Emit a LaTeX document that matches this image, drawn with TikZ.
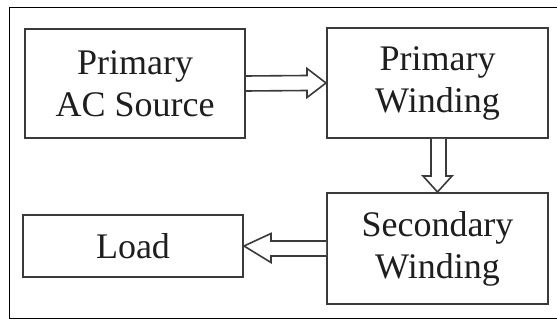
\documentclass[tikz,border=0pt]{standalone}
\usepackage{fontspec}
\setmainfont{Liberation Serif}
\usetikzlibrary{calc}
\definecolor{edgegray}{HTML}{3A3A3A}
\definecolor{inkgray}{HTML}{1E1E1E}
\begin{document}
\begin{tikzpicture}[x=1pt,y=-1pt,
  blk/.style={draw=edgegray, line width=2pt, fill=white, inner sep=0pt,
    align=center, text=inkgray, font=\fontsize{36}{42}\selectfont},
  blockarrow/.style={draw=edgegray, line width=1.6pt, fill=white, line join=miter}]
\useasboundingbox (0,0) rectangle (557,320);
% outer frame, running off the right edge
\draw[black, line width=1.4pt] (560,7.5) -- (9.5,7.5) -- (9.5,318.5) -- (560,318.5);

\node[blk, minimum width=220pt, minimum height=109pt] (src) at (135,83.5) {Primary\\AC Source};
\node[blk, minimum width=221pt, minimum height=110pt] (pri) at (437.5,83) {Primary\\Winding};
\node[blk, minimum width=221pt, minimum height=111pt] (sec) at (437.5,248.5) {Secondary\\Winding};
\node[blk, minimum width=220pt, minimum height=62pt] (load) at (133,246) {Load};

% hollow block arrows between the boxes
\draw[blockarrow]
  ($(src.east)+(0,-7.5)$) -- ($(pri.west)+(-19,-7.5)$) -- ($(pri.west)+(-19,-14.5)$)
  -- (pri.west) -- ($(pri.west)+(-19,14.5)$)
  -- ($(pri.west)+(-19,7.5)$) -- ($(src.east)+(0,7.5)$);
\draw[blockarrow]
  ($(pri.south)+(-6.5,0)$) -- ($(sec.north)+(-6.5,-16)$) -- ($(sec.north)+(-14.5,-16)$)
  -- (sec.north) -- ($(sec.north)+(14.5,-16)$)
  -- ($(sec.north)+(8.5,-16)$) -- ($(pri.south)+(8.5,0)$);
\draw[blockarrow]
  ($(sec.west)+(0,-7.5)$) -- ($(load.east)+(27,-5)$) -- ($(load.east)+(27,-12.5)$)
  -- (load.east) -- ($(load.east)+(27,16.5)$)
  -- ($(load.east)+(27,10)$) -- ($(sec.west)+(0,7.5)$);
\end{tikzpicture}
\end{document}
